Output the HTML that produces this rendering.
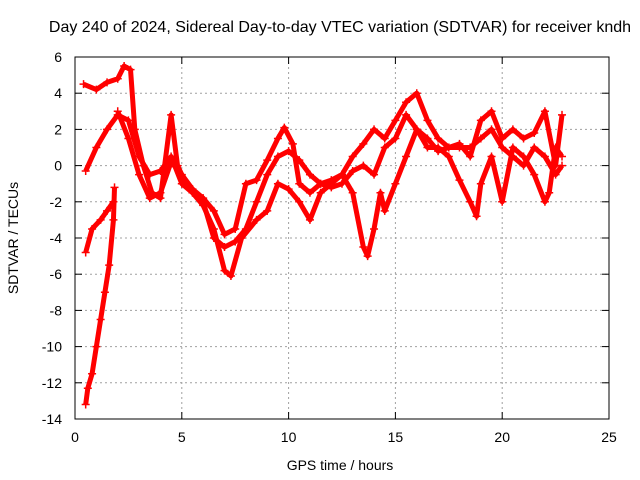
<!DOCTYPE html>
<html><head><meta charset="utf-8"><style>
body{margin:0;background:#fff}
svg{display:block;font-family:"Liberation Sans",sans-serif}
</style></head><body>
<svg id="chart" width="640" height="480" viewBox="0 0 640 480">
<text x="340" y="32" font-size="16" text-anchor="middle">Day 240 of 2024, Sidereal Day-to-day VTEC variation (SDTVAR) for receiver kndh</text>
<g id="grid"></g>
<g id="ticks"></g>
<g id="series"></g>
<rect x="75" y="57" width="534" height="362" fill="none" stroke="#000" stroke-width="1"/>
<text x="340" y="470" font-size="14" text-anchor="middle">GPS time / hours</text>
<text x="18" y="238" font-size="14" text-anchor="middle" transform="rotate(-90 18 238)">SDTVAR / TECUs</text>
</svg>
<script>
const xTicks=[0,5,10,15,20,25];
const yTicks=[6,4,2,0,-2,-4,-6,-8,-10,-12,-14];
const t1x=[0.4,1,1.5,2,2.3,2.6,2.8,3.2,3.6,4,4.5,4.8,5.2,6,6.5,7,7.5,8,8.5,9,9.5,9.8,10.2,10.5,11,11.5,12,12.5,13,13.5,14,14.5,15,15.5,16,16.5,17,17.5,18,18.5,19,19.5,20,20.5,21,21.5,22,22.5,22.8];
const t1y=[4.5,4.2,4.6,4.8,5.5,5.3,2,0,-1.5,-1.8,2.8,0,-1,-1.8,-2.5,-3.8,-3.5,-1,-0.8,0.3,1.5,2.1,1.2,-1,-1.5,-1,-0.8,-0.5,0.5,1.2,2,1.5,2.5,3.5,4,2.5,1.5,1,1.2,0.5,2.5,3,1.5,2,1.5,1.8,3,0,2.8];
const t2x=[0.5,1,1.5,2,2.5,3,3.5,4,4.5,5,5.5,6,6.5,7,7.3,7.8,8.5,9,9.5,10,10.5,11,11.5,12,12.5,13,13.5,13.7,14,14.3,14.5,15,15.5,16,16.5,17,17.5,18,18.5,18.8,19,19.5,20,20.5,21,21.5,22,22.2,22.5,22.8];
const t2y=[-0.3,1,2,2.8,2.5,0.5,-0.5,-0.3,0.5,-1,-1.5,-2.2,-3.5,-5.8,-6.1,-4,-3,-2.5,-1,-1.3,-2,-3,-1.5,-1,-0.5,-1.5,-4.5,-5,-3.5,-1.5,-2.5,-1,0.5,2,1,1,0.5,-0.8,-2,-2.8,-1,0.5,-2,1,0.5,-0.5,-2,-1.5,1,0.5];
const t3x=[0.5,0.8,1.2,1.5,1.8];
const t3y=[-4.8,-3.5,-3,-2.5,-2];
const t4x=[0.5,0.6,0.8,1.0,1.2,1.4,1.6,1.8,1.85];
const t4y=[-13.2,-12.3,-11.5,-10,-8.5,-7,-5.5,-3,-1.2];
const t5x=[2,2.5,3,3.5,4,4.5,5,5.5,6,6.5,7,7.5,8,8.5,9,9.5,10,10.5,11,11.5,12,12.5,13,13.5,14,14.5,15,15.5,16,16.5,17,17.5,18,18.5,19,19.5,20,20.5,21,21.5,22,22.5,22.8];
const t5y=[3,1.5,-0.5,-1.8,-1.5,0.2,-0.5,-1.3,-2,-4,-4.5,-4.2,-3.5,-2,-0.5,0.5,0.8,0.3,-0.5,-1,-1.2,-1,-0.3,0,-0.5,1,1.5,2.8,2,1.5,0.8,1,1,1,1.5,2,1,0.5,0,1,0.5,-0.5,0];
const NS='http://www.w3.org/2000/svg';
const X=v=>75+v*(534/25), Y=v=>57+(6-v)*(362/20);
const grid=document.getElementById('grid'),ticks=document.getElementById('ticks'),ser=document.getElementById('series');
function mk(tag,at,p){const e=document.createElementNS(NS,tag);for(const k in at)e.setAttribute(k,at[k]);p.appendChild(e);return e;}
xTicks.forEach(t=>{
 if(t>0&&t<25){const g=mk('line',{x1:X(t),x2:X(t),y1:57,y2:419,stroke:'#a0a0a0','stroke-dasharray':'2,3'},grid);
 
 }
 mk('line',{x1:X(t),x2:X(t),y1:419,y2:412,stroke:'#000'},ticks);
 mk('line',{x1:X(t),x2:X(t),y1:57,y2:64,stroke:'#000'},ticks);
 const l=mk('text',{x:X(t),y:442,'font-size':14,'text-anchor':'middle'},ticks);l.textContent=t;
 
 
});
yTicks.forEach(t=>{
 if(t<6&&t>-14){const g=mk('line',{x1:75,x2:609,y1:Y(t),y2:Y(t),stroke:'#a0a0a0','stroke-dasharray':'2,3'},grid);
 
 }
 mk('line',{x1:75,x2:82,y1:Y(t),y2:Y(t),stroke:'#000'},ticks);
 mk('line',{x1:609,x2:602,y1:Y(t),y2:Y(t),stroke:'#000'},ticks);
 const l=mk('text',{x:62,y:Y(t)+5,'font-size':14,'text-anchor':'end'},ticks);l.textContent=t;
 
 
});
[[t1x,t1y],[t2x,t2y],[t3x,t3y],[t4x,t4y],[t5x,t5y]].forEach(([xs,ys],i)=>{
 const pl=mk('polyline',{points:xs.map((x,j)=>X(x)+','+Y(ys[j])).join(' '),fill:'none',stroke:'#f00','stroke-width':5,'stroke-linejoin':'round'},ser);
 
 
 xs.forEach((x,j)=>{const p=mk('path',{d:`M${X(x)-4},${Y(ys[j])}h8M${X(x)},${Y(ys[j])-4}v8`,stroke:'#f00','stroke-width':1.5},ser);
 
 });
});
</script>
</body></html>
